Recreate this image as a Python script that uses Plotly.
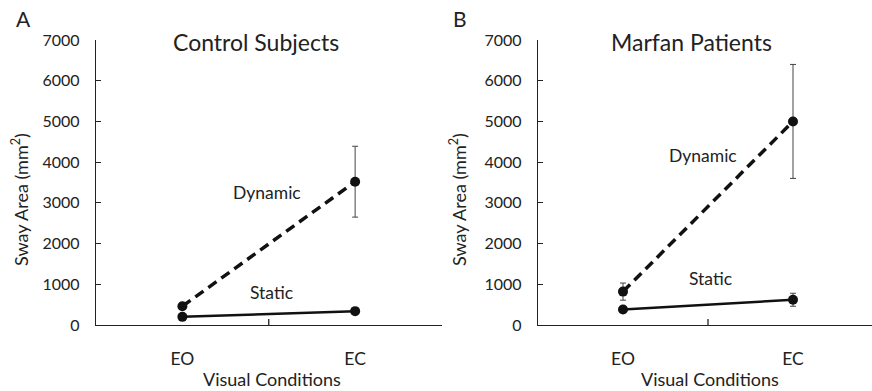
import plotly.graph_objects as go

conditions = ["EO", "EC"]
control_dynamic = [460, 3520]
control_dynamic_err = [80, 870]
control_static = [200, 340]
control_static_err = [30, 40]
marfan_dynamic = [820, 5000]
marfan_dynamic_err = [210, 1400]
marfan_static = [380, 620]
marfan_static_err = [40, 160]

W, H = 872, 391
def px(x): return x / W
def py(y): return 1 - y / H

FONT = "Lato, Open Sans, sans-serif"
fig = go.Figure()

def add_series(y, err, xa, ya, dash, width):
    fig.add_trace(go.Scatter(
        x=[0, 1], y=y, mode="lines+markers", xaxis=xa, yaxis=ya,
        line=dict(color="#111", width=width, dash=dash),
        marker=dict(color="#111", size=10),
        error_y=dict(type="data", array=err, visible=True, color="#444", thickness=1, width=3),
        showlegend=False, cliponaxis=False))

add_series(control_dynamic, control_dynamic_err, "x", "y", "10px,6px", 3.5)
add_series(control_static, control_static_err, "x", "y", "solid", 2.5)
add_series(marfan_dynamic, marfan_dynamic_err, "x2", "y2", "10px,6px", 3.5)
add_series(marfan_static, marfan_static_err, "x2", "y2", "solid", 2.5)

ydom = [py(325), py(40)]
xcommon = dict(tickmode="array", tickvals=[0, 1], ticktext=conditions, showline=True, linecolor="#222",
               linewidth=1.3, showgrid=False, zeroline=False, ticks="", tickfont=dict(size=17.5, color="#222", family=FONT),
               ticklabelstandoff=18, automargin=False)
ycommon = dict(range=[0, 7000], tickvals=list(range(0, 7001, 1000)), showline=True, linecolor="#222",
               linewidth=1.3, showgrid=False, zeroline=False, ticks="inside", ticklen=5, tickcolor="#222",
               tickfont=dict(size=16, color="#222", family=FONT), ticklabelstandoff=12, domain=ydom,
               automargin=False)

fig.update_layout(
    width=W, height=H, margin=dict(l=0, r=0, t=0, b=0, autoexpand=False),
    paper_bgcolor="white", plot_bgcolor="white",
    xaxis=dict(domain=[px(96), px(441.5)], range=[-0.5, 1.5], anchor="y", **xcommon),
    yaxis=dict(anchor="x", **ycommon),
    xaxis2=dict(domain=[px(538), 1], range=[-0.5, (872 - 538) / 170 - 0.5], anchor="y2", **xcommon),
    yaxis2=dict(anchor="x2", **ycommon),
)

# middle boundary ticks on x axes
for xa, ya in [("x", "y"), ("x2", "y2")]:
    fig.add_shape(type="line", xref=xa, yref=ya, x0=0.5, x1=0.5, y0=0, y1=150,
                  line=dict(color="#222", width=1.3))

ann = []
def text(x, y, s, size, **kw):
    ann.append(dict(x=px(x), y=py(y), xref="paper", yref="paper", text=s, showarrow=False,
                    xanchor="center", yanchor="middle",
                    font=dict(size=size, color="#222", family=FONT), **kw))

text(23, 19, "A", 21)
text(460, 19, "B", 21)
text(256, 42, "Control Subjects", 23)
text(691, 42, "Marfan Patients", 23)
text(267, 193, "Dynamic", 17.5)
text(271, 292, "Static", 17.5)
text(703, 155, "Dynamic", 17.5)
text(710, 278, "Static", 17.5)
text(272, 379, "Visual Conditions", 18)
text(710, 379, "Visual Conditions", 18)
text(20, 200, "Sway Area (mm<sup>2</sup>)", 18, textangle=-90)
text(458, 200, "Sway Area (mm<sup>2</sup>)", 18, textangle=-90)
fig.update_layout(annotations=ann)

fig.write_html("out.html", config={"displayModeBar": False},
               post_script="document.body.style.margin='0';document.body.style.overflow='hidden';")
